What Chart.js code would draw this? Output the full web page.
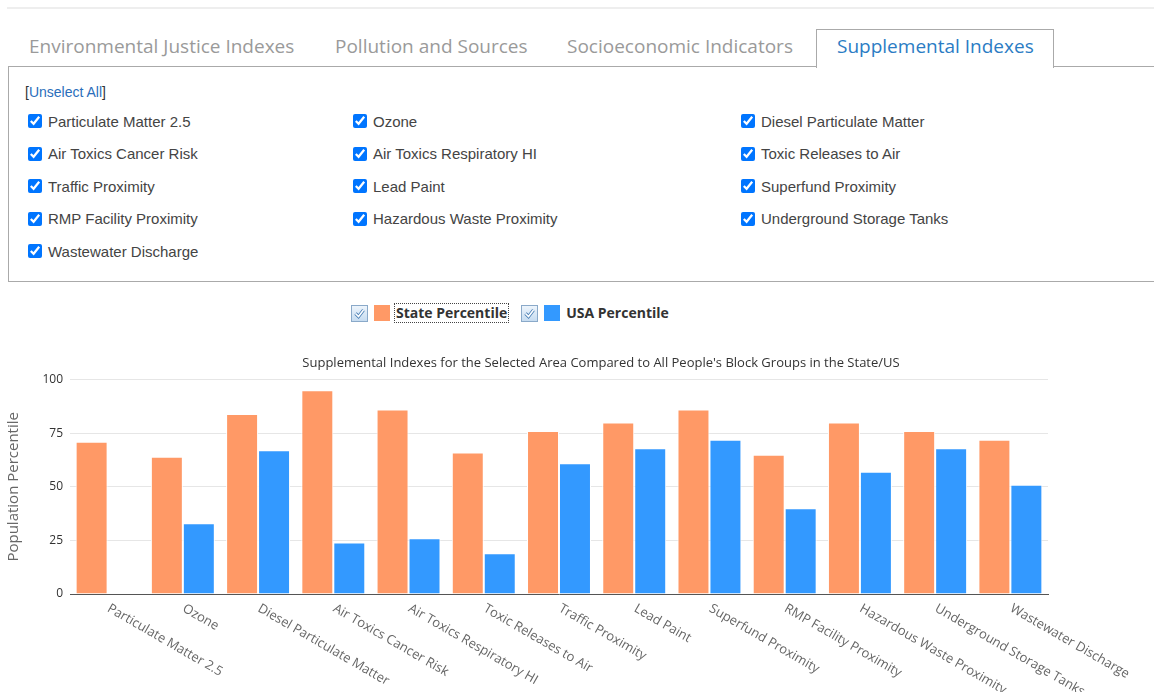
<!DOCTYPE html>
<html>
<head>
<meta charset="utf-8">
<script src="https://cdn.jsdelivr.net/npm/chart.js@4.4.0/dist/chart.umd.min.js"></script>
<style>
    body { margin: 0; width: 1154px; height: 692px; overflow: hidden; background: #fff; position: relative; font-family: 'Open Sans', sans-serif; }
    .topline { position: absolute; left: 7px; top: 7px; width: 1147px; height: 2px; background: #eee; }
    .tab { position: absolute; top: 33px; font-size: 19px; line-height: 26px; color: #9a9a9a; white-space: nowrap; z-index: 3; }
    .tab.active { color: #2b7cc4; }
    .tabbox { position: absolute; left: 816px; top: 29px; width: 236px; height: 38px; border: 1px solid #aaa; border-bottom: none; background: #fff; z-index: 2; }
    .panel { position: absolute; left: 8px; top: 66px; width: 1170px; height: 214px; border: 1px solid #aaa; }
    .unselect { position: absolute; left: 25px; top: 84px; font-family: 'Liberation Sans', Arial, sans-serif; font-size: 14px; color: #333; }
    .unselect a { color: #2a6ebb; text-decoration: none; }
    .item { position: absolute; font-family: 'Liberation Sans', Arial, sans-serif; font-size: 15px; color: #444; white-space: nowrap; display: flex; align-items: center; height: 18px; }
    .item input { width: 14px; height: 14px; margin: 0 6px 0 0; }
    #legend { position: absolute; left: 351px; top: 303px; display: flex; align-items: center; font-size: 14px; font-weight: bold; color: #333; }
    .lg { display: flex; align-items: center; margin-right: 12px; }
    .lg svg { margin-right: 6px; }
    .lg .sw { width: 16px; height: 16px; margin-right: 4px; }
    .lg .txt { padding: 0 1px; line-height: 18px; border: 1px dotted transparent; }
    .lg .txt.focus { border-color: #444; }
    #chart-wrap { position: absolute; left: 0; top: 340px; width: 1154px; height: 352px; }
</style>
</head>
<body>
<div class="topline"></div>
<div class="tabbox"></div>
<div class="panel"></div>
<div id="tabs"></div>
<div class="unselect">[<a href="#">Unselect All</a>]</div>
<div id="checks"></div>
<div id="legend"></div>
<div id="chart-wrap"><canvas id="chart"></canvas></div>
<script>
// --- Data ---
const tabNames = ['Environmental Justice Indexes', 'Pollution and Sources', 'Socioeconomic Indicators', 'Supplemental Indexes'];
const categories = [
    'Particulate Matter 2.5', 'Ozone', 'Diesel Particulate Matter', 'Air Toxics Cancer Risk',
    'Air Toxics Respiratory HI', 'Toxic Releases to Air', 'Traffic Proximity', 'Lead Paint',
    'Superfund Proximity', 'RMP Facility Proximity', 'Hazardous Waste Proximity',
    'Underground Storage Tanks', 'Wastewater Discharge'
];
const statePercentile = [71, 64, 84, 95, 86, 66, 76, 80, 86, 65, 80, 76, 72];
const usaPercentile = [null, 33, 67, 24, 26, 19, 61, 68, 72, 40, 57, 68, 51];
const yTicks = [0, 25, 50, 75, 100];
const chartTitle = "Supplemental Indexes for the Selected Area Compared to All People's Block Groups in the State/US";
const yAxisTitle = 'Population Percentile';

// --- Tabs ---
const tabX = [29, 335, 567, 837];
const tabs = document.getElementById('tabs');
tabNames.forEach((name, i) => {
    const t = document.createElement('div');
    t.className = 'tab' + (i === 3 ? ' active' : '');
    t.style.left = tabX[i] + 'px';
    t.textContent = name;
    tabs.appendChild(t);
});

// --- Indicator checkboxes (same order as the chart categories) ---
const colX = [28, 353, 741];
const checks = document.getElementById('checks');
categories.forEach((name, i) => {
    const item = document.createElement('label');
    item.className = 'item';
    item.style.left = colX[i % 3] + 'px';
    item.style.top = (112 + Math.floor(i / 3) * 32.5) + 'px';
    item.innerHTML = '<input type="checkbox" checked>' + name;
    checks.appendChild(item);
});

// --- Chart ---
const ctx = document.getElementById('chart').getContext('2d');

// x labels are drawn slanted down to the right, starting at each category
const slantLabels = {
    id: 'slantLabels',
    afterDraw(chart) {
        const x = chart.scales.x;
        const c = chart.ctx;
        c.save();
        c.font = "13px 'Open Sans', sans-serif";
        c.fillStyle = '#666';
        c.textAlign = 'left';
        c.textBaseline = 'top';
        chart.data.labels.forEach((label, i) => {
            c.save();
            c.translate(x.getPixelForTick(i) + 4, x.top + 8);
            c.rotate(Math.PI / 6);
            c.fillText(label, 0, 0);
            c.restore();
        });
        c.restore();
    }
};

// title is centred on a wider box than the plot (as in the original page)
const titleShift = {
    id: 'titleShift',
    afterLayout(chart) {
        if (chart.titleBlock) chart.titleBlock.right = 1202;
    }
};

const chart = new Chart(ctx, {
    type: 'bar',
    data: {
        labels: categories,
        datasets: [{
            label: 'State Percentile',
            data: statePercentile,
            backgroundColor: '#ff9966',
            borderColor: '#ffffff',
            borderWidth: 1
        }, {
            label: 'USA Percentile',
            data: usaPercentile,
            backgroundColor: '#3399ff',
            borderColor: '#ffffff',
            borderWidth: 1
        }]
    },
    options: {
        responsive: true,
        maintainAspectRatio: false,
        animation: false,
        categoryPercentage: 0.85,
        barPercentage: 1,
        layout: { padding: { left: 0, right: 106, top: 0, bottom: 90 } },
        scales: {
            x: {
                grid: { display: false },
                border: { display: true, color: '#555', width: 1 },
                ticks: { display: false }
            },
            y: {
                min: 0,
                max: 100,
                afterBuildTicks: (scale) => { scale.ticks = yTicks.map(v => ({ value: v })); },
                afterFit: (scale) => { scale.width = 70; },
                grid: { color: '#e6e6e6', drawTicks: false },
                border: { display: false },
                ticks: { color: '#333', padding: 7, font: { family: "'Open Sans', sans-serif", size: 12 } },
                title: {
                    display: true,
                    text: yAxisTitle,
                    color: '#666',
                    padding: { top: 5, bottom: 4 },
                    font: { family: "'Open Sans', sans-serif", size: 15 }
                }
            }
        },
        plugins: {
            legend: { display: false },
            tooltip: { enabled: false },
            title: {
                display: true,
                text: chartTitle,
                color: '#333',
                padding: { top: 15, bottom: 9 },
                font: { family: "'Open Sans', sans-serif", size: 13, weight: 'normal' }
            }
        }
    },
    plugins: [slantLabels, titleShift]
});

// --- Legend built from the datasets ---
function buildLegend() {
    const legend = document.getElementById('legend');
    const box = '<svg width="17" height="17" viewBox="0 0 17 17"><defs><linearGradient id="g" x1="0" y1="0" x2="0" y2="1">' +
        '<stop offset="0" stop-color="#eef5fc"/><stop offset="1" stop-color="#c5dbf0"/></linearGradient></defs>' +
        '<rect x="0.5" y="0.5" width="16" height="16" fill="url(#g)" stroke="#8aa9c9"/>' +
        '<polyline points="4.5,8.5 7.5,11.5 12.5,5" fill="none" stroke="#4a7fb5" stroke-width="3.2"/>' +
        '<polyline points="4.5,8.5 7.5,11.5 12.5,5" fill="none" stroke="#fff" stroke-width="1.6"/></svg>';
    chart.data.datasets.forEach((ds, i) => {
        const el = document.createElement('div');
        el.className = 'lg';
        el.innerHTML = box + '<span class="sw" style="background:' + ds.backgroundColor + '"></span>' +
            '<span class="txt' + (i === 0 ? ' focus' : '') + '">' + ds.label + '</span>';
        legend.appendChild(el);
    });
}
buildLegend();
</script>
</body>
</html>
